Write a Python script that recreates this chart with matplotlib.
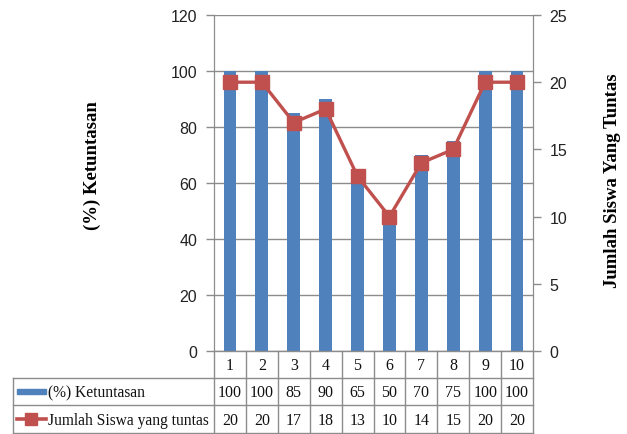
import matplotlib
matplotlib.use('Agg')
import matplotlib.pyplot as plt
import matplotlib.transforms as mtransforms
from matplotlib.lines import Line2D
from matplotlib.patches import Rectangle

# data
kategori = ['1', '2', '3', '4', '5', '6', '7', '8', '9', '10']
ketuntasan = [100, 100, 85, 90, 65, 50, 70, 75, 100, 100]
jumlah_tuntas = [20, 20, 17, 18, 13, 10, 14, 15, 20, 20]
nama_bar = '(%) Ketuntasan'
nama_garis = 'Jumlah Siswa yang tuntas'

biru = '#4F81BD'
merah = '#C0504D'
abu = '#8C8C8C'

W, H = 627, 435
fig = plt.figure(figsize=(W / 100, H / 100), dpi=100)

# plot area in pixels: x 214..533, y 16..352 (from top)
ax1 = fig.add_axes([214 / W, (H - 352) / H, (533 - 214) / W, (352 - 16) / H])
ax2 = ax1.twinx()

x = list(range(1, len(kategori) + 1))
ax1.bar(x, ketuntasan, width=0.4, color=biru, zorder=2)
ax1.set_xlim(0.5, len(kategori) + 0.5)
ax1.set_ylim(0, 120)
ax1.set_yticks(range(0, 121, 20))
ax1.yaxis.grid(True, color=abu, linewidth=1)
ax1.set_axisbelow(True)
ax1.set_xticks([])

ax2.plot(x, jumlah_tuntas, color=merah, linewidth=2.4, marker='s',
         markersize=9.5, zorder=3)
ax2.set_ylim(0, 25)
ax2.set_yticks(range(0, 26, 5))

for a in (ax1, ax2):
    for s in ('top', 'bottom'):
        a.spines[s].set_visible(False)
    a.spines['left'].set_color(abu)
    a.spines['right'].set_color(abu)
    a.tick_params(axis='y', length=6, color=abu, width=1, pad=6,
                  labelsize=11.5)
    for lbl in a.get_yticklabels():
        lbl.set_fontfamily('Liberation Sans')
        lbl.set_color('#222222')

ax1.text(-0.382, 0.554, nama_bar, transform=ax1.transAxes, rotation=90,
         ha='center', va='center', fontsize=13.5, fontweight='bold',
         family='Liberation Serif')
ax2.text(1.248, 0.509, 'Jumlah Siswa Yang Tuntas', transform=ax2.transAxes,
         rotation=90, ha='center', va='center', fontsize=13.5,
         fontweight='bold', family='Liberation Serif')

# data table under the plot (x in data, y in pixels from top)
px = mtransforms.blended_transform_factory(
    ax1.transData, mtransforms.Affine2D().scale(1, -1).translate(0, H))
kiri = 0.5 + (12.5 - 214) / 32.0
kanan = len(kategori) + 0.5
baris = [352, 379, 406, 434]

def garis(xs, ys):
    fig.add_artist(Line2D(xs, ys, color=abu, linewidth=1, transform=px,
                          clip_on=False))

# horizontal lines
garis([0.5, kanan], [baris[0], baris[0]])
for yb in baris[1:]:
    garis([kiri, kanan], [yb, yb])
# vertical lines
for i in range(len(kategori) + 1):
    garis([0.5 + i, 0.5 + i], [baris[0], baris[3]])
garis([kiri, kiri], [baris[1], baris[3]])

teks = dict(transform=px, ha='center', va='center', fontsize=11.5,
            family='Liberation Serif', color='#111111')
for i, k in enumerate(kategori):
    fig.text(x[i], (baris[0] + baris[1]) / 2 + 1, k, **teks)
    fig.text(x[i], (baris[1] + baris[2]) / 2 + 1, str(ketuntasan[i]), **teks)
    fig.text(x[i], (baris[2] + baris[3]) / 2 + 1, str(jumlah_tuntas[i]), **teks)

# legend keys in row labels
kx0 = kiri + (16 - 12.5) / 32.0
kx1 = kiri + (45 - 12.5) / 32.0
y1 = (baris[1] + baris[2]) / 2
y2 = (baris[2] + baris[3]) / 2
fig.add_artist(Rectangle((kx0, y1 - 2.5), kx1 - kx0, 5, color=biru,
                         transform=px, clip_on=False))
fig.add_artist(Line2D([kx0, kx1], [y2, y2], color=merah, linewidth=2.6,
                      transform=px, clip_on=False))
fig.add_artist(Line2D([(kx0 + kx1) / 2], [y2], color=merah, marker='s',
                      markersize=8.5, linestyle='none', transform=px,
                      clip_on=False))
tx = kiri + (47 - 12.5) / 32.0
fig.text(tx, y1 + 1, nama_bar, transform=px, ha='left', va='center',
         fontsize=11.2, family='Liberation Serif', color='#111111')
fig.text(tx, y2 + 1, nama_garis, transform=px, ha='left', va='center',
         fontsize=11.2, family='Liberation Serif', color='#111111')

fig.savefig('out.png', dpi=100)
